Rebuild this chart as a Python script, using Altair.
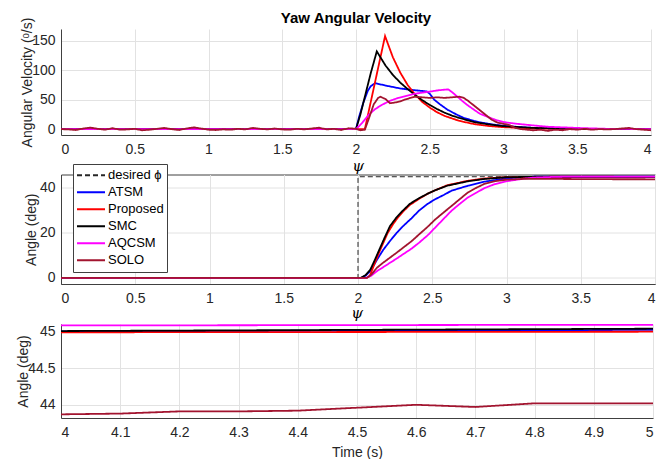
import altair as alt
import pandas as pd

SERIES = ["desired ϕ", "ATSM", "Proposed", "SMC", "AQCSM", "SOLO"]
COLORS = ["#262626", "#0000ff", "#ff0000", "#000000", "#ff00ff", "#a2142f"]
DASHES = [[5, 3], [1, 0], [1, 0], [1, 0], [1, 0], [1, 0]]

# ---------- Panel 1: yaw angular velocity (deg/s) ----------
vel_atsm_t = [0, 2.0, 2.02, 2.05, 2.08, 2.1, 2.13, 2.2, 2.3, 2.4, 2.48, 2.5, 2.53, 2.57, 2.62, 2.68, 2.73, 2.8, 2.85, 2.95, 3.05, 3.2, 3.5, 4.0]
vel_atsm_v = [0, 0, 20, 45, 65, 73, 78, 74, 69, 66, 64, 60, 50, 42, 33, 25, 19, 14, 11, 7, 4.5, 2, 0.5, 0]

vel_prop_t = [0, 2.06, 2.197, 2.25, 2.3, 2.35, 2.4, 2.45, 2.5, 2.55, 2.6, 2.7, 2.8, 2.9, 3.0, 3.2, 3.5, 4.0]
vel_prop_v = [0, 0, 158, 122, 96, 75, 59, 46, 36.5, 28.6, 22.5, 14, 8.6, 5.3, 3.3, 1.3, 0.3, 0]

vel_smc_t = [0, 2.0, 2.03, 2.07, 2.1, 2.141, 2.2, 2.25, 2.3, 2.35, 2.4, 2.45, 2.5, 2.55, 2.6, 2.65, 2.7, 2.8, 2.9, 3.0, 3.2, 3.5, 4.0]
vel_smc_v = [0, 0, 25, 65, 95, 132, 108, 92, 79, 68, 58, 49, 41, 34, 28, 23, 19, 12, 8, 5, 2, 0.5, 0]

vel_aqcsm_t = [0, 2.0, 2.04, 2.085, 2.13, 2.174, 2.23, 2.286, 2.35, 2.397, 2.45, 2.509, 2.56, 2.625, 2.65, 2.688, 2.72, 2.754, 2.8, 2.84, 2.9, 2.955, 3.0, 3.07, 3.18, 3.3, 3.5, 3.7, 4.0]
vel_aqcsm_v = [0, 0, 10, 24, 34, 41, 48, 53, 57, 60, 62, 64, 66, 67.5, 63, 55, 48, 41, 33, 26, 20, 15, 12, 9.6, 6.8, 4, 2, 0.5, 0]

vel_solo_t = [0, 0.05, 0.1, 0.15, 0.2, 0.25, 0.3, 0.35, 0.4, 0.45, 0.5, 0.55, 0.6, 0.65, 0.7, 0.75, 0.8, 0.85, 0.9, 0.95,
              1.0, 1.05, 1.1, 1.15, 1.2, 1.25, 1.3, 1.35, 1.4, 1.45, 1.5, 1.55, 1.6, 1.65, 1.7, 1.75, 1.8, 1.85, 1.9, 1.95,
              2.0, 2.03, 2.06, 2.09, 2.12, 2.15, 2.165, 2.2, 2.23, 2.26, 2.3, 2.33, 2.37, 2.4, 2.45, 2.5, 2.55, 2.6, 2.65, 2.7,
              2.73, 2.76, 2.8, 2.84, 2.88, 2.92, 2.96, 3.0, 3.04, 3.08, 3.12, 3.2, 3.25, 3.3, 3.35, 3.4, 3.45, 3.5, 3.55, 3.6,
              3.65, 3.7, 3.75, 3.8, 3.85, 3.9, 3.95, 4.0]
vel_solo_v = [0, -0.5, -1.5, 1, 2.5, 0.5, -1, 1.5, -1, -0.5, 0.5, -2, -1, 0.5, 2, 0, -1.5, 1, 3, 1,
              -1, -1.5, -0.5, -1, 0.5, -0.5, 2, 0.5, -0.5, 1, -0.5, -1, 0.5, -0.5, 1, 2.5, -0.5, 0.5, -1.5, 1.5,
              0.5, -2, -1, 20, 42, 53, 55, 51, 44, 45, 47, 50, 53, 55, 54, 53, 54, 53, 54, 55,
              53, 48, 40, 32, 24, 16, 11, 9, 7, 2, 0, -2, -1, -3, -1, -2, 0, -1, 0.5, -1,
              0, -0.5, 0, 1, 2, 0, -1, -2]

# ---------- Panel 2: yaw angle psi (deg), 0-4 s ----------
ang_des_t = [0, 2.0, 2.0, 4.0]
ang_des_v = [0, 0, 45, 45]

ang_atsm_t = [0, 2.02, 2.05, 2.083, 2.127, 2.17, 2.215, 2.26, 2.303, 2.36, 2.412, 2.47, 2.52, 2.58, 2.63, 2.74, 2.85, 3.0, 3.18, 4.0]
ang_atsm_v = [0, 0, 1, 3, 8, 12.5, 16.4, 20, 23, 26.5, 30, 33, 35, 37, 38.8, 41, 42.8, 44.3, 45, 45.0]

ang_prop_t = [0, 2.06, 2.08, 2.105, 2.14, 2.171, 2.2, 2.237, 2.27, 2.303, 2.35, 2.412, 2.47, 2.52, 2.6, 2.74, 2.85, 3.0, 3.3, 4.0]
ang_prop_v = [0, 0, 1, 5.2, 11, 15.7, 20, 24, 27, 29.5, 32.5, 35.2, 37.5, 39, 41.2, 43.2, 44.2, 44.8, 45, 44.98]

ang_smc_t = [0, 2.018, 2.05, 2.083, 2.11, 2.149, 2.18, 2.215, 2.26, 2.303, 2.35, 2.412, 2.47, 2.52, 2.6, 2.74, 2.85, 3.0, 3.2, 4.0]
ang_smc_v = [0, 0, 1.2, 3.7, 7.5, 13.4, 18, 23, 27, 30, 33, 35.5, 37.5, 39, 41, 43, 44, 44.8, 45, 45.0]

ang_aqcsm_t = [0, 2.05, 2.09, 2.127, 2.17, 2.215, 2.26, 2.303, 2.36, 2.412, 2.47, 2.52, 2.58, 2.63, 2.69, 2.74, 2.8, 2.85, 2.92, 3.0, 3.1, 3.18, 3.3, 3.4, 4.0]
ang_aqcsm_v = [0, 0, 1, 3, 4.8, 6.7, 8.6, 10.5, 13, 15.7, 19, 22.4, 26.5, 29.9, 33.2, 35.8, 38, 39.9, 41.7, 43, 44, 44.6, 44.9, 45.05, 45.08]

ang_solo_t = [0, 2.06, 2.09, 2.127, 2.17, 2.215, 2.26, 2.303, 2.36, 2.412, 2.47, 2.52, 2.58, 2.63, 2.69, 2.74, 2.8, 2.85, 2.92, 3.0, 3.1, 3.2, 3.4, 3.7, 4.0]
ang_solo_v = [0, 0, 1.5, 4.5, 6.8, 9, 11.2, 13.4, 16.3, 19.4, 22.8, 26, 29.3, 32, 35.3, 38, 40.2, 41.8, 43, 43.7, 44.0, 44.1, 44.0, 43.9, 43.87]

# ---------- Panel 3: yaw angle psi (deg), 4-5 s ----------
z_atsm_t = [4.0, 5.0]
z_atsm_v = [45.0, 45.02]
z_prop_t = [4.0, 5.0]
z_prop_v = [44.987, 44.995]
z_smc_t = [4.0, 4.5, 5.0]
z_smc_v = [45.004, 45.02, 45.036]
z_aqcsm_t = [4.0, 5.0]
z_aqcsm_v = [45.08, 45.09]
z_solo_t = [4.0, 4.1, 4.2, 4.3, 4.4, 4.5, 4.6, 4.7, 4.8, 4.9, 5.0]
z_solo_v = [43.87, 43.88, 43.91, 43.91, 43.92, 43.96, 44.0, 43.97, 44.02, 44.02, 44.02]

X_TICKS_A = [0, 0.5, 1, 1.5, 2, 2.5, 3, 3.5, 4]
X_TICKS_B = [4, 4.1, 4.2, 4.3, 4.4, 4.5, 4.6, 4.7, 4.8, 4.9, 5]
Y_TICKS_1 = [0, 50, 100, 150]
Y_TICKS_2 = [0, 20, 40]
Y_TICKS_3 = [44, 44.5, 45]


def frame(pairs):
    rows = []
    for name, ts, vs in pairs:
        for i, (t, v) in enumerate(zip(ts, vs)):
            rows.append({"series": name, "t": t, "v": v, "i": i})
    return pd.DataFrame(rows)


df1 = frame([("ATSM", vel_atsm_t, vel_atsm_v), ("Proposed", vel_prop_t, vel_prop_v),
             ("SMC", vel_smc_t, vel_smc_v), ("AQCSM", vel_aqcsm_t, vel_aqcsm_v),
             ("SOLO", vel_solo_t, vel_solo_v)])
df2 = frame([("desired ϕ", ang_des_t, ang_des_v), ("ATSM", ang_atsm_t, ang_atsm_v),
             ("Proposed", ang_prop_t, ang_prop_v), ("SMC", ang_smc_t, ang_smc_v),
             ("AQCSM", ang_aqcsm_t, ang_aqcsm_v), ("SOLO", ang_solo_t, ang_solo_v)])
df3 = frame([("ATSM", z_atsm_t, z_atsm_v), ("Proposed", z_prop_t, z_prop_v),
             ("SMC", z_smc_t, z_smc_v), ("AQCSM", z_aqcsm_t, z_aqcsm_v),
             ("SOLO", z_solo_t, z_solo_v)])

AX_COLOR = "#404040"
GRID = "#e2e2e2"
TXT = "#262626"


def panel(df, xdom, xticks, ydom, yticks, ytitle, ytitle_x, xtitle, legend, width, height, title, stroke):
    base = alt.Chart(df)
    layers = []
    present = list(dict.fromkeys(df["series"]))
    for s in SERIES:
        if s not in present:
            continue
        layers.append(
            base.transform_filter(alt.datum.series == s)
            .mark_line(clip=True, strokeWidth=1.0 if s == SERIES[0] else 1.8)
            .encode(
                x=alt.X("t:Q", scale=alt.Scale(domain=xdom, nice=False, zero=False),
                        axis=alt.Axis(values=xticks, format="~r"),
                        title=xtitle if xtitle else None),
                y=alt.Y("v:Q", scale=alt.Scale(domain=ydom, nice=False, zero=False),
                        axis=alt.Axis(values=yticks, format="~r", titleX=ytitle_x), title=ytitle),
                color=alt.Color("series:N", scale=alt.Scale(domain=SERIES, range=COLORS), legend=legend),
                strokeDash=alt.StrokeDash("series:N", scale=alt.Scale(domain=SERIES, range=DASHES), legend=legend),
                order="i:Q",
            )
        )
    return alt.layer(*layers).properties(
        width=width, height=height, title=title,
        view=alt.ViewBackground(stroke=stroke, strokeWidth=1),
    )


leg = alt.Legend(
    title=None, orient="none", legendX=12, legendY=-10.5,
    fillColor="white", strokeColor=AX_COLOR, padding=3, cornerRadius=0,
    symbolType="stroke", symbolSize=784, symbolStrokeWidth=1.8, clipHeight=16.5,
    rowPadding=0, labelFont="Liberation Sans", labelFontSize=13, labelColor="black", labelOffset=2,
)


def psi_title(dy):
    return alt.TitleParams("ψ", font="DejaVu Serif", fontStyle="italic", fontWeight="normal",
                           fontSize=15, color="black", offset=1, frame="group", dy=dy)


p1 = panel(df1, [0, 4], X_TICKS_A, [-10, 170], Y_TICKS_1, "Angular Velocity (ᵒ/s)", -27, None, None,
           590, 106,
           alt.TitleParams("Yaw Angular Velocity", font="Liberation Sans", fontWeight="bold",
                           fontSize=15, color="black", offset=4, frame="group", dy=13),
           "transparent")
p2 = panel(df2, [0, 4], X_TICKS_A, [-2.7, 46], Y_TICKS_2, "Angle (deg)", -23, None, leg,
           594, 109.5, psi_title(11), AX_COLOR)
p3 = panel(df3, [4, 5], X_TICKS_B, [43.82, 45.1], Y_TICKS_3, "Angle (deg)", -31, "Time (s)", None,
           592, 94, psi_title(-2), "transparent")

chart = (
    alt.vconcat(p1, p2, p3, spacing=39.5, bounds="flush")
    .resolve_scale(x="independent", y="independent", color="independent", strokeDash="independent")
    .resolve_legend(color="independent", strokeDash="independent")
    .properties(padding={"left": 7, "top": 2, "right": 0, "bottom": 0}, background="white")
    .configure(font="Liberation Sans")
    .configure_axis(
        grid=True, gridColor=GRID, gridWidth=1, ticks=False,
        domainColor=AX_COLOR, domainWidth=1,
        labelFont="Liberation Sans", labelFontSize=14, labelColor=TXT,
        titleFont="Liberation Sans", titleFontSize=14, titleFontWeight="normal", titleColor=TXT,
    )
    .configure_axisX(labelPadding=7, titlePadding=6)
    .configure_axisY(labelPadding=6)
)

chart.save("out.html", embed_options={"renderer": "svg", "actions": False})
